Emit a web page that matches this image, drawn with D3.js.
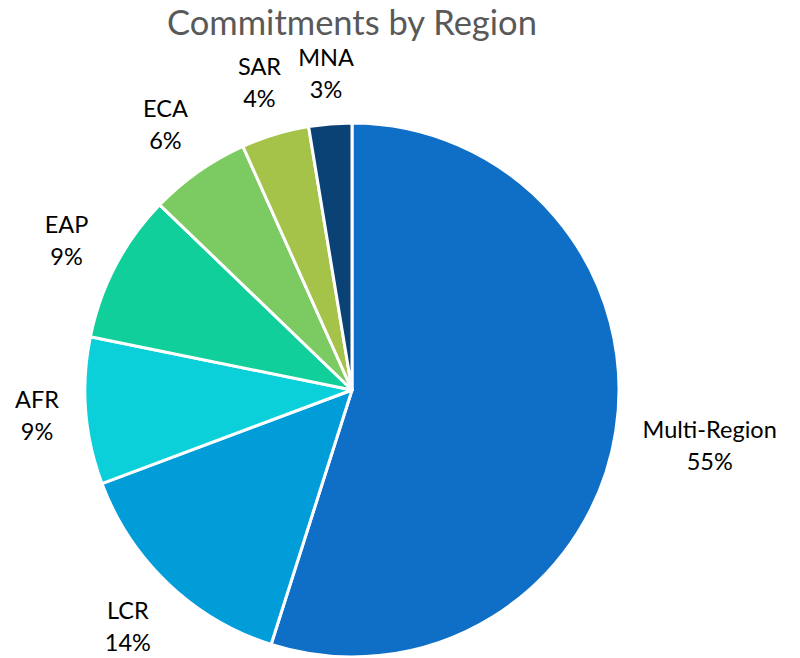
<!DOCTYPE html>
<html>
<head>
<meta charset="utf-8">
<script src="https://cdn.jsdelivr.net/npm/d3@7"></script>
<style>
  html, body { margin: 0; padding: 0; background: #fff; }
  svg { display: block; }
</style>
</head>
<body>
<svg id="pie" width="800" height="658"></svg>
<script>
// regions in drawing order, clockwise from 12 o'clock
const regions = ["Multi-Region", "LCR", "AFR", "EAP", "ECA", "SAR", "MNA"];
const shares = [54.9, 14.4, 8.9, 9.0, 6.1, 4.1, 2.6];
const colors = ["#0F6FC6", "#009DD9", "#0BD0D9", "#10CF9B", "#7CCA62", "#A5C249", "#0B4276"];

const width = 800, height = 658;
const cx = 352, cy = 390, radius = 267;

const svg = d3.select("#pie");
const data = regions.map((r, i) => ({ region: r, value: shares[i], color: colors[i] }));

svg.append("text")
  .attr("x", cx)
  .attr("y", 35)
  .attr("text-anchor", "middle")
  .attr("font-family", "Lato, 'Open Sans', sans-serif")
  .attr("font-size", "34.5px")
  .attr("fill", "#595959")
  .text("Commitments by Region");

const pie = d3.pie().sort(null).value(d => d.value);
const arc = d3.arc().innerRadius(0).outerRadius(radius);
const arcs = pie(data);

const g = svg.append("g").attr("transform", `translate(${cx},${cy})`);

g.selectAll("path")
  .data(arcs)
  .enter()
  .append("path")
  .attr("d", arc)
  .attr("fill", d => d.data.color)
  .attr("stroke", "#fff")
  .attr("stroke-width", 3)
  .attr("stroke-linejoin", "round");

// labels sit outside the pie, pushed out along the slice's mid ray
const lineGap = 32;
const labels = g.selectAll(".label")
  .data(arcs)
  .enter()
  .append("text")
  .attr("class", "label")
  .attr("text-anchor", "middle")
  .attr("font-family", "Lato, 'Open Sans', sans-serif")
  .attr("font-size", "23.5px")
  .attr("fill", "#000");

labels.append("tspan")
  .attr("x", 0)
  .attr("dy", 0)
  .text(d => d.data.region);

labels.append("tspan")
  .attr("x", 0)
  .attr("dy", lineGap)
  .text(d => Math.round(d.data.value) + "%");

labels.each(function (d) {
  const box = this.getBBox();
  const mid = (d.startAngle + d.endAngle) / 2;
  const sx = Math.sin(mid), cyy = -Math.cos(mid);
  const hw = box.width / 2, hh = box.height / 2;
  const dist = radius + 25 + Math.abs(sx) * hw + Math.abs(cyy) * hh * 0.8;
  const px = sx * dist;
  const py = cyy * dist;
  // box centre -> baseline of the first line
  const offY = py - (box.y + box.height / 2);
  d3.select(this).attr("transform", `translate(${px},${offY})`);
});
</script>
</body>
</html>
